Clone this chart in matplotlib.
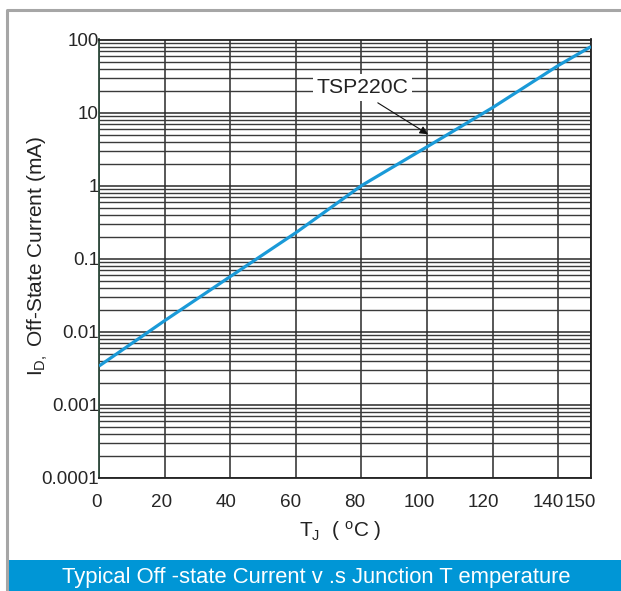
import numpy as np
import matplotlib
matplotlib.use("Agg")
import matplotlib.pyplot as plt
from matplotlib.ticker import FixedLocator, NullFormatter, LogLocator
from matplotlib.lines import Line2D
from matplotlib.patches import Rectangle
import matplotlib.transforms as mtransforms

# data
temp_c = [0, 20, 40, 60, 80, 100, 120, 140, 150]
off_current_ma = [0.0034, 0.0142, 0.057, 0.227, 1.0, 3.4, 11.7, 44, 80]

x_ticks = [0, 20, 40, 60, 80, 100, 120, 140, 150]
y_ticks = [0.0001, 0.001, 0.01, 0.1, 1, 10, 100]
y_tick_labels = ["0.0001", "0.001", "0.01", "0.1", "1", "10", "100"]

part_name = "TSP220C"
title_text = "Typical Off -state Current v .s Junction T emperature"

plt.rcParams["font.family"] = ["Liberation Sans", "DejaVu Sans"]
plt.rcParams["mathtext.fontset"] = "custom"
plt.rcParams["mathtext.rm"] = "Liberation Sans"
plt.rcParams["mathtext.it"] = "Liberation Sans"

W, H = 621, 591
fig = plt.figure(figsize=(W / 100, H / 100), dpi=100)

ax = fig.add_axes([99 / W, 1 - 478 / H, 492 / W, (478 - 39.5) / H])
ax.set_yscale("log")
ax.set_xlim(0, 150)
ax.set_ylim(1e-4, 100)

# grid
ax.xaxis.set_major_locator(FixedLocator(x_ticks))
ax.yaxis.set_major_locator(FixedLocator(y_ticks))
ax.yaxis.set_minor_locator(LogLocator(base=10, subs=np.arange(2, 10)))
ax.yaxis.set_minor_formatter(NullFormatter())
ax.grid(True, which="major", axis="both", color="#2a2a2a", lw=1.1)
ax.grid(True, which="minor", axis="y", color="#3a3a3a", lw=1.0)
ax.set_axisbelow(True)

ax.set_xticklabels([str(t) for t in x_ticks])
ax.set_yticklabels(y_tick_labels)
ax.tick_params(axis="both", which="both", length=0, labelsize=13.6, colors="#262626")
ax.tick_params(axis="x", pad=11.5)
ax.tick_params(axis="y", pad=0)

# x labels in the reference drift a little to the left
for lbl, t in zip(ax.get_xticklabels(), x_ticks):
    dx = -(2 + 9 * t / 150) / 100
    lbl.set_transform(lbl.get_transform() + mtransforms.ScaledTranslation(dx, 0, fig.dpi_scale_trans))

for s in ax.spines.values():
    s.set_color("#222222")
    s.set_linewidth(1.3)
ax.spines["left"].set_color("#2e4a3c")

ax.plot(temp_c, off_current_ma, color="#1a9ad8", lw=2.3, solid_capstyle="butt", zorder=3)

# part label with a white box over the grid
ax.text(80.2, 22.0, part_name, fontsize=15.2, color="#222222", ha="center", va="center",
        bbox=dict(boxstyle="square,pad=0.17", fc="white", ec="none"), zorder=4)
ax.annotate("", xy=(100.3, 5.06), xytext=(85, 13.6),
            arrowprops=dict(arrowstyle="-|>", color="#111111", lw=0.8, mutation_scale=12,
                            shrinkA=0, shrinkB=0), zorder=4)

# axis labels
fig.text(38 / W, 1 - 256 / H, r"I$_{\rm D,}$ Off-State Current (mA)", rotation=90,
         ha="center", va="center", fontsize=15, color="#222222")
fig.text(340 / W, 1 - 531 / H, r"T$_{\rm J}$  ( $^{\rm o}$C )",
         ha="center", va="center", fontsize=15, color="#222222")

# frame and bottom title band
fig.add_artist(Line2D([7 / W, 7 / W, 1], [0, 1 - 10 / H, 1 - 10 / H],
                      color="#a6a6a6", lw=2.2, transform=fig.transFigure))
fig.add_artist(Rectangle((7 / W, 0), 1 - 7 / W, 31 / H, transform=fig.transFigure,
                         facecolor="#0096d6", edgecolor="none"))
fig.text(316 / W, 1 - 578 / H, title_text, ha="center", va="center",
         fontsize=15.8, color="white")

fig.savefig("out.png", dpi=100)
